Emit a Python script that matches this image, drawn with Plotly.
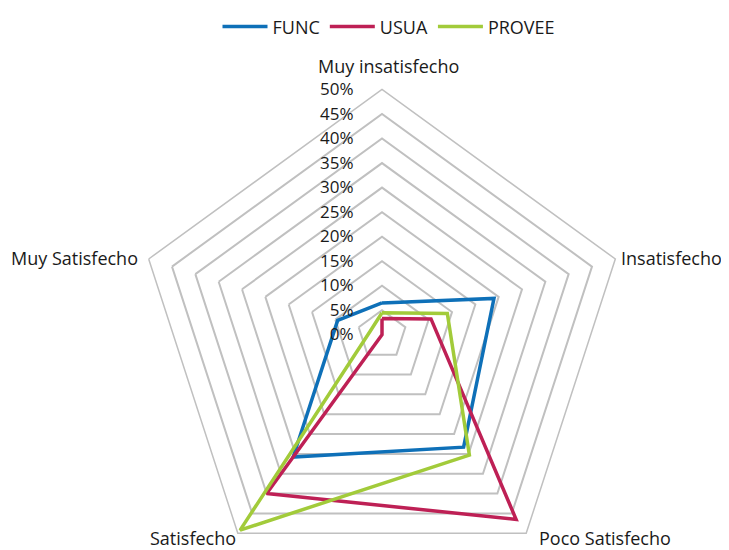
import plotly.graph_objects as go

categories = ["Muy insatisfecho", "Insatisfecho", "Poco Satisfecho", "Satisfecho", "Muy Satisfecho"]
func_vals = [6.5, 24.0, 28.3, 30.8, 9.5]
usua_vals = [3.3, 10.5, 46.5, 40.0, 0.0]
provee_vals = [4.5, 14.0, 30.3, 49.2, 2.5]
series_names = ["FUNC", "USUA", "PROVEE"]
series_colors = ["#0E70B8", "#BE2055", "#A2CB3A"]
tick_vals = [0, 5, 10, 15, 20, 25, 30, 35, 40, 45, 50]
tick_text = [f"{v}%" for v in tick_vals]

W, H = 729, 590
fig = go.Figure()
for name, vals, col in zip(series_names, [func_vals, usua_vals, provee_vals], series_colors):
    fig.add_trace(go.Scatterpolar(
        r=vals + vals[:1], theta=categories + categories[:1],
        mode="lines", name=name, line=dict(color=col, width=3.5),
    ))

# category labels placed beside the outer ring vertices (figure pixel coords)
label_pos = [
    (381, 54, "center"),
    (611, 248, "left"),
    (529, 530, "left"),
    (230, 530, "right"),
    (132, 248, "right"),
]
annotations = [
    dict(text=cat, x=px / W, y=1 - py / H, xref="paper", yref="paper",
         xanchor=anc, yanchor="middle", showarrow=False,
         font=dict(size=18, family="Open Sans", color="#1a1a1a"))
    for cat, (px, py, anc) in zip(categories, label_pos)
]

cx, cy, R = 374, 325, 247
fig.update_layout(
    width=W, height=H,
    margin=dict(l=0, r=0, t=0, b=0),
    paper_bgcolor="white",
    font=dict(family="Open Sans", size=16, color="#1a1a1a"),
    showlegend=True,
    legend=dict(orientation="h", x=381 / W, xanchor="center", y=1 - 15 / H, yanchor="middle",
                font=dict(size=18), itemwidth=45),
    annotations=annotations,
    polar=dict(
        domain=dict(x=[(cx - R) / W, (cx + R) / W], y=[(H - cy - R) / H, (H - cy + R) / H]),
        gridshape="linear",
        bgcolor="white",
        radialaxis=dict(range=[0, 50], tickvals=tick_vals, ticktext=tick_text,
                        angle=90, side="counterclockwise", tickangle=90,
                        showline=False, ticks="outside", ticklen=22,
                        tickcolor="rgba(0,0,0,0)",
                        gridcolor="#C0C0C0", gridwidth=1.5,
                        tickfont=dict(size=17)),
        angularaxis=dict(rotation=90, direction="clockwise", showgrid=False,
                         linecolor="#C0C0C0", linewidth=1.5, ticks="",
                         showticklabels=False),
    ),
)
fig.write_html("out.html")
